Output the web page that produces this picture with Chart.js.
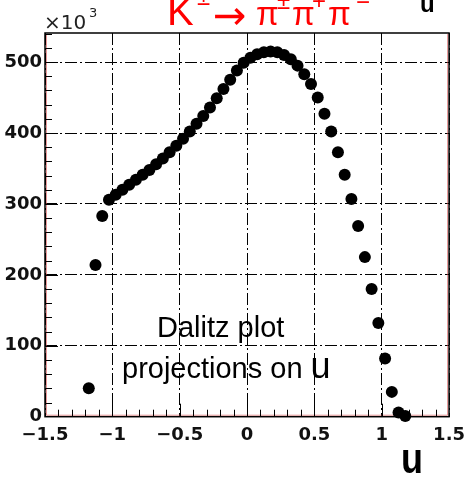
<!DOCTYPE html>
<html>
<head>
<meta charset="utf-8">
<title>Dalitz plot projection on u</title>
<script src="https://cdn.jsdelivr.net/npm/chart.js@4.4.1/dist/chart.umd.min.js"></script>
<style>
    html, body { margin: 0; padding: 0; background: #fff; }
    #wrap { position: relative; width: 473px; height: 478px; }
</style>
</head>
<body>
<div id="wrap"><canvas id="uChart"></canvas></div>
<script>
// Bin centres in u (bin width 0.05)
const uBins = [
    -1.175, -1.125, -1.075, -1.025, -0.975, -0.925, -0.875, -0.825,
    -0.775, -0.725, -0.675, -0.625, -0.575, -0.525, -0.475, -0.425,
    -0.375, -0.325, -0.275, -0.225, -0.175, -0.125, -0.075, -0.025,
     0.025,  0.075,  0.125,  0.175,  0.225,  0.275,  0.325,  0.375,
     0.425,  0.475,  0.525,  0.575,  0.625,  0.675,  0.725,  0.775,
     0.825,  0.875,  0.925,  0.975,  1.025,  1.075,  1.125,  1.175
];

// Events per bin, in units of 10^3
const counts = [
     40, 214, 283, 306, 313, 320, 327, 334,
    341, 348, 356, 364, 373, 382, 392, 402,
    413, 424, 436, 449, 462, 475, 488, 499,
    506, 511, 514, 515, 514, 510, 504, 495,
    483, 469, 450, 427, 402, 373, 341, 307,
    269, 225, 180, 132,  82,  35,   6,   1
];

const xTicks = [-1.5, -1, -0.5, 0, 0.5, 1, 1.5];
const yTicks = [0, 100, 200, 300, 400, 500];
const yMax = 541;

// ROOT-style minus sign in the tick labels
function fmt(v) {
    return v < 0 ? '\u2212' + Math.abs(v) : String(v);
}

const tickFont = { family: 'DejaVu Sans', weight: 'bold', size: 18 };

// Frame, inward tick marks and the text inside the pad
const framePlugin = {
    id: 'frame',
    beforeDatasetsDraw(chart) {
        const { ctx, chartArea: a, scales: { x, y } } = chart;
        ctx.save();

        // thin red inner line of the frame
        ctx.strokeStyle = 'rgba(215, 70, 70, 0.55)';
        ctx.lineWidth = 1;
        ctx.beginPath();
        ctx.moveTo(a.left + 1.5, a.top + 1);
        ctx.lineTo(a.left + 1.5, a.bottom - 1.5);
        ctx.lineTo(a.right - 1.5, a.bottom - 1.5);
        ctx.lineTo(a.right - 1.5, a.top + 1);
        ctx.stroke();

        // ticks, major every 100 / 0.5, minor every 20 / 0.1
        ctx.strokeStyle = '#000';
        ctx.lineWidth = 1;
        ctx.beginPath();
        for (let v = 20; v < yMax; v += 20) {
            const py = Math.round(y.getPixelForValue(v)) + 0.5;
            const len = v % 100 === 0 ? 13 : 7;
            ctx.moveTo(a.left, py);
            ctx.lineTo(a.left + len, py);
        }
        for (let i = -14; i <= 14; i++) {
            const px = Math.round(x.getPixelForValue(i / 10)) + 0.5;
            const len = i % 5 === 0 ? 13 : 7;
            ctx.moveTo(px, a.bottom);
            ctx.lineTo(px, a.bottom - len);
        }
        ctx.stroke();

        // black frame
        ctx.lineWidth = 1.5;
        ctx.strokeRect(a.left, a.top, a.right - a.left, a.bottom - a.top);

        // pad label
        ctx.fillStyle = '#000';
        ctx.textBaseline = 'alphabetic';
        ctx.font = '29px "Liberation Sans"';
        ctx.fillText('Dalitz plot', 157, 337);
        ctx.fillText('projections on ', 122, 378);
        const w = ctx.measureText('projections on ').width;
        ctx.font = '36px "Liberation Sans"';
        ctx.fillText('u', 122 + w, 378);
        ctx.restore();
    },
    afterDraw(chart) {
        const { ctx } = chart;
        ctx.save();
        ctx.textBaseline = 'alphabetic';

        // y multiplier
        ctx.fillStyle = '#222';
        ctx.font = '20px "DejaVu Sans"';
        ctx.fillText('\u00d710', 44, 29);
        ctx.font = '13px "DejaVu Sans"';
        ctx.fillText('3', 89, 17);

        // decay title, partly above the top edge
        ctx.fillStyle = '#ff0000';
        ctx.font = '40px "Liberation Sans"';
        ctx.fillText('K', 167, 25);
        ctx.font = '40px "DejaVu Sans"';
        ctx.fillText('\u2192', 213, 29);
        ctx.font = '33px "Liberation Sans"';
        ctx.fillText('\u03c0', 256, 25);
        ctx.fillText('\u03c0', 292, 25);
        ctx.fillText('\u03c0', 328, 25);
        ctx.font = '24px "Liberation Sans"';
        ctx.fillText('\u00b1', 197, 5);
        ctx.fillText('\u00b1', 277, 9);
        ctx.fillText('+', 312, 9);
        ctx.fillText('\u2212', 356, 10);

        // variable name, top right and under the axis
        ctx.fillStyle = '#000';
        ctx.font = 'bold 24px "Liberation Sans"';
        ctx.fillText('u', 420, 12);
        ctx.save();
        ctx.translate(401, 473);
        ctx.scale(1, 1.2);
        ctx.font = 'bold 36px "Liberation Sans"';
        ctx.fillText('u', 0, 0);
        ctx.restore();
        ctx.restore();
    }
};

const ctx = document.getElementById('uChart').getContext('2d');

new Chart(ctx, {
    type: 'scatter',
    data: {
        datasets: [{
            data: uBins.map((u, i) => ({ x: u, y: counts[i] })),
            backgroundColor: '#000',
            borderColor: '#000',
            borderWidth: 0,
            pointRadius: 6,
            pointHoverRadius: 6,
            clip: false
        }]
    },
    options: {
        responsive: true,
        maintainAspectRatio: false,
        animation: false,
        events: [],
        layout: { padding: { top: 33, right: 20, left: 0, bottom: 0 } },
        plugins: {
            legend: { display: false },
            tooltip: { enabled: false }
        },
        scales: {
            x: {
                type: 'linear',
                min: -1.5,
                max: 1.5,
                afterBuildTicks: axis => { axis.ticks = xTicks.map(v => ({ value: v })); },
                afterFit: axis => { axis.height = 61.3; },
                grid: { color: '#000', lineWidth: 1, drawTicks: false },
                border: { display: false, dash: [12, 3, 2, 3] },
                ticks: {
                    padding: 8,
                    color: '#111',
                    font: tickFont,
                    maxRotation: 0,
                    autoSkip: false,
                    callback: v => fmt(v)
                }
            },
            y: {
                type: 'linear',
                min: 0,
                max: yMax,
                afterBuildTicks: axis => { axis.ticks = yTicks.map(v => ({ value: v })); },
                afterFit: axis => { axis.width = 45; },
                grid: { color: '#000', lineWidth: 1, drawTicks: false },
                border: { display: false, dash: [12, 3, 2, 3] },
                ticks: {
                    padding: 3,
                    color: '#111',
                    font: tickFont,
                    autoSkip: false,
                    callback: v => String(v)
                }
            }
        }
    },
    plugins: [framePlugin]
});
</script>
</body>
</html>
